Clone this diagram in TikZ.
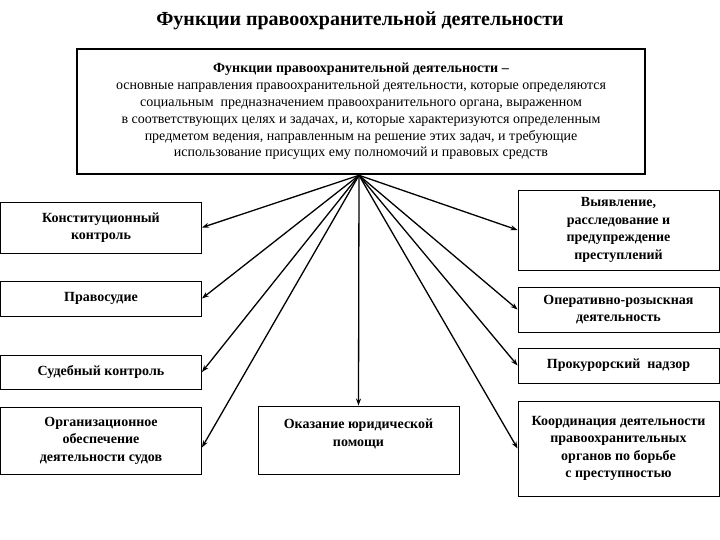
\documentclass[tikz,border=0pt]{standalone}
\usepackage{fontspec}
\setmainfont{Liberation Serif}
\usetikzlibrary{arrows.meta}
\begin{document}
\begin{tikzpicture}[x=1pt,y=-1pt,
  box/.style={draw=black,line width=0.9pt,inner sep=0pt,align=center,
    font=\fontsize{14}{17.5}\selectfont\bfseries},
  mainbox/.style={draw=black,line width=2.6pt,inner sep=0pt,align=center,
    minimum width=568pt,minimum height=125pt,
    font=\fontsize{14}{16.8}\selectfont},
  arr/.style={line width=1.3pt,-{Stealth[length=7pt,width=5pt]}}]
\useasboundingbox (0,0) rectangle (720,540);
\node[font=\fontsize{20}{22}\selectfont\bfseries] (title) at (360,21) {Функции правоохранительной деятельности};
\node[mainbox] (main) at (361,111.5) {{\bfseries Функции правоохранительной деятельности –}\\
основные направления правоохранительной деятельности, которые определяются\\
социальным \ предназначением правоохранительного органа, выраженном\\
в соответствующих целях и задачах, и, которые характеризуются определенным\\
предметом ведения, направленным на решение этих задач, и требующие\\
использование присущих ему полномочий и правовых средств};
% left column
\node[box,minimum width=201pt,minimum height=51pt] (konst) at (101,227.5) {Конституционный\\контроль};
\node[box,minimum width=201pt,minimum height=35pt] (pravo) at (101,298.5) {Правосудие};
\node[box,minimum width=201pt,minimum height=34pt] (sud) at (101,372) {Судебный контроль};
\node[box,minimum width=201pt,minimum height=67pt] (org) at (101,440.5) {Организационное\\обеспечение\\деятельности судов};
% middle
\node[box,minimum width=201pt,minimum height=68pt] (yur) at (358.5,440) {\parbox[c][68pt][t]{201pt}{\centering\vspace{13pt}Оказание юридической\\помощи}};
% right column
\node[box,minimum width=201pt,minimum height=80pt] (vyyav) at (618.5,230) {Выявление,\\расследование и\\предупреждение\\преступлений};
\node[box,minimum width=201pt,minimum height=45pt] (oper) at (618.5,309.5) {Оперативно-розыскная\\деятельность};
\node[box,minimum width=201pt,minimum height=35pt] (prok) at (618.5,365.5) {Прокурорский \ надзор};
\node[box,minimum width=201pt,minimum height=95pt] (koord) at (618.5,448.5) {Координация деятельности\\правоохранительных\\органов по борьбе\\с преступностью};
% arrows
\coordinate (o) at ([xshift=-2pt]main.south);
\draw[arr] (o) -- (konst.east);
\draw[arr] (o) -- (pravo.east);
\draw[arr] (o) -- (sud.east);
\draw[arr] (o) -- ([yshift=-7pt]org.east);
\draw[arr] (o) -- (yur.north);
\draw[arr] (o) -- (vyyav.west);
\draw[arr] (o) -- (oper.west);
\draw[arr] (o) -- (prok.west);
\draw[arr] (o) -- (koord.west);
\end{tikzpicture}
\end{document}
